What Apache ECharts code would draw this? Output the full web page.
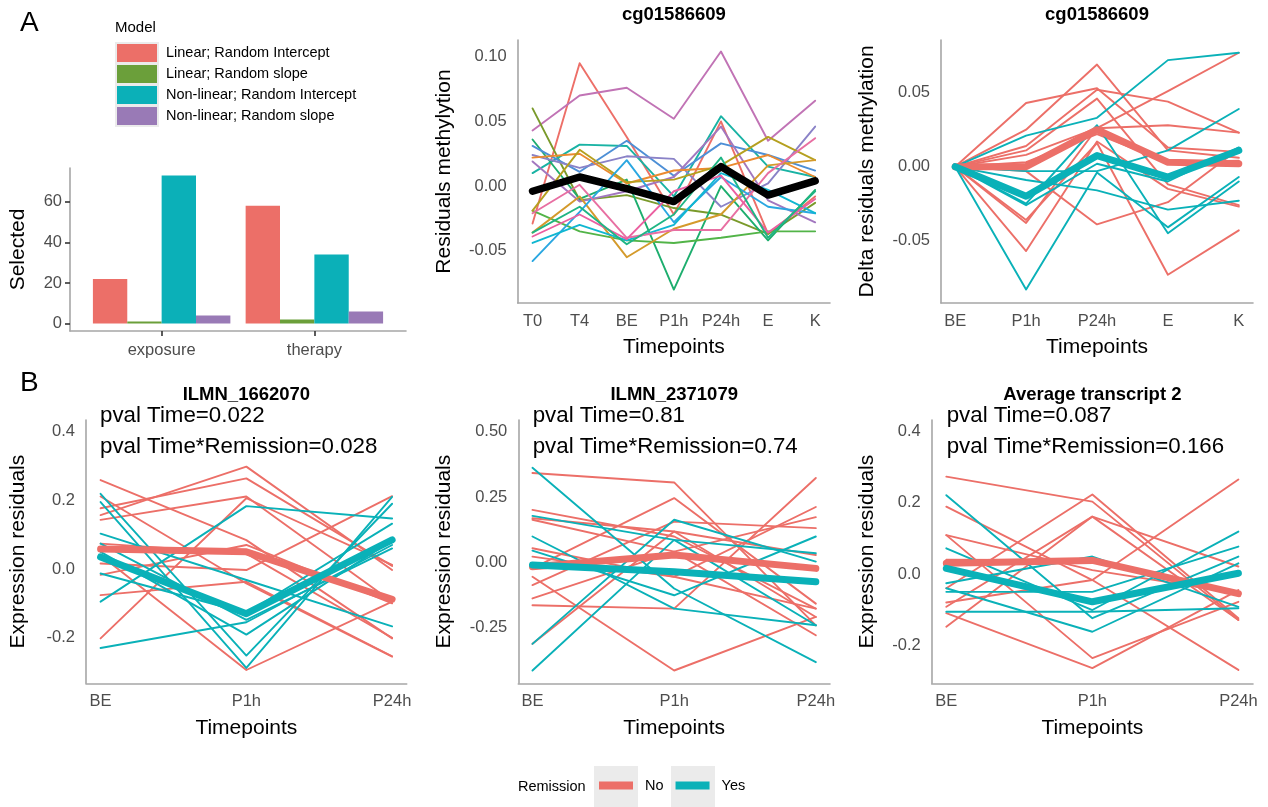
<!DOCTYPE html>
<html><head><meta charset="utf-8">
<script src="https://cdn.jsdelivr.net/npm/echarts@6/dist/echarts.min.js"></script>
<style>html,body{margin:0;padding:0;background:#fff}#c{width:1268px;height:807px}</style>
</head><body><div id="c"></div>
<script>
// ---------------- DATA ----------------
const modelNames = ['Linear; Random Intercept', 'Linear; Random slope', 'Non-linear; Random Intercept', 'Non-linear; Random slope'];
const phases = ['exposure', 'therapy'];
const selLinearRI = [22, 58];
const selLinearRS = [1, 2];
const selNonlinRI = [73, 34];
const selNonlinRS = [4, 6];

const tpA2 = ['T0', 'T4', 'BE', 'P1h', 'P24h', 'E', 'K'];
const a2Subjects = [
  [-0.029, 0.095, 0.038, -0.022, 0.050, -0.037, -0.008],
  [0.043, 0.070, 0.076, 0.052, 0.104, 0.035, 0.066],
  [0.060, -0.011, -0.007, -0.017, -0.022, -0.037, -0.013],
  [0.010, 0.032, 0.031, -0.008, 0.054, 0.015, 0.007],
  [0.036, -0.010, 0.005, -0.080, 0.000, -0.042, -0.003],
  [-0.019, -0.035, -0.042, -0.044, -0.040, -0.035, -0.035],
  [0.031, 0.011, 0.035, 0.008, 0.033, 0.024, 0.012],
  [0.024, 0.014, 0.023, 0.021, -0.016, 0.002, 0.046],
  [0.019, -0.012, -0.004, 0.007, 0.046, -0.011, -0.028],
  [0.022, 0.025, 0.002, 0.012, 0.014, 0.024, 0.007],
  [-0.019, 0.028, 0.003, 0.005, 0.016, 0.038, 0.020],
  [-0.036, -0.008, -0.055, -0.033, -0.022, 0.016, 0.020],
  [-0.058, -0.020, 0.020, -0.028, 0.007, -0.016, -0.021],
  [-0.044, -0.030, -0.042, -0.030, 0.010, -0.003, -0.021],
  [-0.021, 0.001, -0.040, -0.034, -0.034, 0.010, 0.037],
  [-0.039, -0.022, -0.041, -0.004, 0.008, -0.036, -0.010],
  [-0.036, -0.016, -0.045, -0.022, 0.022, -0.040, -0.004]
];
const a2Mean = [-0.004, 0.007, -0.002, -0.012, 0.015, -0.007, 0.004];

const tpA3 = ['BE', 'P1h', 'P24h', 'E', 'K'];
const a3No = [
  [0, 0.043, 0.053, 0.013, 0.010],
  [0, 0.025, 0.069, 0.011, 0.006],
  [0, 0.014, 0.052, 0.044, 0.023],
  [0, 0.011, 0.046, -0.012, -0.026],
  [0, 0.008, 0.026, 0.051, 0.077],
  [0, -0.003, -0.039, -0.024, 0.012],
  [0, -0.036, 0.016, -0.073, -0.043],
  [0, -0.057, 0.017, -0.015, -0.027],
  [0, -0.038, 0.026, 0.028, 0.023],
  [0, 0.003, 0.022, 0.003, 0.004]
];
const a3Yes = [
  [0, 0.021, 0.033, 0.072, 0.077],
  [0, -0.083, -0.004, -0.041, -0.007],
  [0, -0.009, -0.016, -0.029, -0.023],
  [0, -0.025, 0.028, -0.045, -0.010],
  [0, -0.003, -0.003, 0.011, 0.039],
  [0, -0.026, 0.002, -0.010, 0.013]
];
const a3NoMean = [0, 0.000, 0.025, 0.003, 0.002];
const a3YesMean = [0, -0.020, 0.0075, -0.007, 0.011];

const tpB = ['BE', 'P1h', 'P24h'];
const b1No = [
  [0.259, 0.084, -0.202], [0.211, -0.042, -0.255], [0.177, 0.264, 0.009], [0.157, 0.298, -0.003],
  [0.143, 0.211, -0.095], [0.016, -0.003, 0.212], [-0.017, 0.070, -0.100], [-0.076, -0.037, -0.254],
  [-0.202, 0.206, 0.012], [0.040, -0.294, -0.095], [0.074, 0.045, -0.200]
];
const b1Yes = [
  [0.219, -0.252, 0.190], [0.195, -0.288, 0.210], [0.103, -0.032, -0.167], [0.074, -0.148, 0.060],
  [-0.013, -0.128, 0.132], [-0.095, 0.183, 0.147], [-0.230, -0.155, 0.070], [0.050, -0.191, 0.084]
];
const b1NoMean = [0.058, 0.050, -0.088];
const b1YesMean = [0.035, -0.130, 0.085];

const b2No = [
  [0.342, 0.306, -0.241], [0.201, 0.099, -0.177], [0.169, 0.118, -0.209], [0.163, 0.041, -0.279],
  [0.054, -0.055, 0.212], [-0.055, -0.414, -0.209], [-0.023, 0.246, -0.158], [-0.087, 0.156, 0.131],
  [-0.138, 0.041, 0.173], [-0.164, -0.177, 0.323], [-0.312, 0.118, 0.028], [0.022, -0.055, -0.177]
];
const b2Yes = [
  [0.362, -0.100, -0.382], [0.178, 0.086, 0.035], [0.099, -0.177, -0.241],
  [0.045, -0.126, 0.099], [-0.312, 0.163, 0.003], [-0.414, 0.086, -0.241]
];
const b2NoMean = [-0.017, 0.028, -0.023];
const b2YesMean = [-0.010, -0.036, -0.074];

const b3No = [
  [0.273, 0.203, -0.129], [0.189, -0.017, -0.269], [0.109, 0.011, -0.054], [0.109, -0.236, -0.078],
  [-0.040, 0.223, -0.124], [-0.092, 0.161, 0.021], [-0.110, -0.264, -0.045], [-0.148, 0.161, -0.129],
  [-0.080, -0.017, 0.265], [0.040, 0.039, -0.060]
];
const b3Yes = [
  [0.221, -0.124, 0.049], [0.072, -0.101, 0.119], [-0.026, 0.049, -0.092],
  [-0.050, -0.050, 0.077], [-0.106, -0.106, -0.096], [-0.040, -0.162, 0.030]
];
const b3NoMean = [0.030, 0.038, -0.055];
const b3YesMean = [0.016, -0.078, 0.002];

const yTicksA1 = [0, 20, 40, 60];
const yTicksA2 = [-0.05, 0.00, 0.05, 0.10];
const yTicksA3 = [-0.05, 0.00, 0.05];
const yTicksB1 = [-0.2, 0.0, 0.2, 0.4];
const yTicksB2 = [-0.25, 0.00, 0.25, 0.50];
const yTicksB3 = [-0.2, 0.0, 0.2, 0.4];

// ---------------- STYLE ----------------
const FONT = '"Liberation Sans", Arial, Helvetica, sans-serif';
const RED = '#EC6F68', TEAL = '#0AB1B8';
const barColors = ['#EC6F68', '#6B9F3A', '#0BB0B8', '#997AB6'];
const a2Colors = ['#ED6F68', '#C173B5', '#7A9A2B', '#19B3A4', '#1DAE6E', '#52B448', '#4D8FD6', '#8A82C7',
  '#A277BF', '#EB8A30', '#B5A01F', '#D49A2B', '#2AA7E1', '#10B7D1', '#E86FA2', '#EB5FA0', '#1FB584'];
const AXIS_COL = '#a6a6a6';

const grids = [
  { left: 70, top: 168, width: 336, height: 163 },
  { left: 517.7, top: 40, width: 312.3, height: 263 },
  { left: 941, top: 40, width: 312, height: 263 },
  { left: 86, top: 420, width: 320.7, height: 263.3 },
  { left: 518.3, top: 420, width: 311.7, height: 263.3 },
  { left: 931.7, top: 420, width: 321.3, height: 263.3 }
];

function xAxis(gi, labels, min, max, opts) {
  const vals = labels.map((_, i) => i);
  return Object.assign({
    type: 'value', gridIndex: gi, min, max,
    splitLine: { show: false },
    axisLine: { onZero: false, lineStyle: { color: AXIS_COL, width: 1.6 } },
    axisTick: { show: false, customValues: vals },
    axisLabel: { customValues: vals, formatter: v => labels[Math.round(v)], color: '#4d4d4d', fontSize: 16.5, fontFamily: FONT, margin: 10 },
    name: 'Timepoints', nameLocation: 'middle', nameGap: 34,
    nameTextStyle: { color: '#000', fontSize: 21, fontFamily: FONT }
  }, opts || {});
}
function yAxis(gi, min, max, ticks, dec, name, gap, opts) {
  return Object.assign({
    type: 'value', gridIndex: gi, min, max,
    splitLine: { show: false },
    axisLine: { show: true, onZero: false, lineStyle: { color: AXIS_COL, width: 1.6 } },
    axisTick: { show: false, customValues: ticks },
    axisLabel: { customValues: ticks, formatter: v => v.toFixed(dec), color: '#4d4d4d', fontSize: 16.5, fontFamily: FONT, margin: 11 },
    name, nameLocation: 'middle', nameGap: gap,
    nameTextStyle: { color: '#000', fontSize: 21, fontFamily: FONT }
  }, opts || {});
}

const xAxes = [
  xAxis(0, phases, -0.6, 1.6, {
    name: '',
    axisTick: { show: true, customValues: [0, 1], length: 5, lineStyle: { color: '#333', width: 1.6 } },
    axisLabel: { customValues: [0, 1], formatter: v => phases[Math.round(v)], color: '#4d4d4d', fontSize: 16.5, fontFamily: FONT, margin: 11 }
  }),
  xAxis(1, tpA2, -0.315, 6.315),
  xAxis(2, tpA3, -0.2, 4.2),
  xAxis(3, tpB, -0.1, 2.1),
  xAxis(4, tpB, -0.1, 2.1),
  xAxis(5, tpB, -0.1, 2.1)
];
const yAxes = [
  yAxis(0, -3.65, 76.65, yTicksA1, 0, 'Selected', 41, {
    axisTick: { show: true, customValues: yTicksA1, length: 5, lineStyle: { color: '#333', width: 1.6 } },
    axisLabel: { customValues: yTicksA1, formatter: v => String(v), color: '#4d4d4d', fontSize: 16.5, fontFamily: FONT, margin: 8 }
  }),
  yAxis(1, -0.0904, 0.1129, yTicksA2, 2, 'Residuals methylytion', 63),
  yAxis(2, -0.0921, 0.0856, yTicksA3, 2, 'Delta residuals methylation', 63),
  yAxis(3, -0.3327, 0.4338, yTicksB1, 1, 'Expression residuals', 57),
  yAxis(4, -0.463, 0.545, yTicksB2, 2, 'Expression residuals', 64),
  yAxis(5, -0.3066, 0.432, yTicksB3, 1, 'Expression residuals', 54)
];

const series = [];
const barData = [selLinearRI, selLinearRS, selNonlinRI, selNonlinRS];
barData.forEach((vals, k) => {
  series.push({
    type: 'bar', name: modelNames[k], xAxisIndex: 0, yAxisIndex: 0,
    data: vals.map((v, i) => [i, v]), barGap: '0%', barCategoryGap: '10%',
    itemStyle: { color: barColors[k] }, color: barColors[k], silent: true
  });
});

function line(name, vals, gi, color, width, z) {
  return {
    type: 'line', name, xAxisIndex: gi, yAxisIndex: gi,
    data: vals.map((v, i) => [i, v]), symbol: 'none', showSymbol: false,
    lineStyle: { color, width, join: 'round', cap: 'round' }, itemStyle: { color }, color, z, silent: true
  };
}
a2Subjects.forEach((vals, k) => series.push(line('cg_' + k, vals, 1, a2Colors[k], 1.9, 2)));
series.push(line('cg_mean', a2Mean, 1, '#000', 7.5, 4));

function groupPanel(gi, noArr, yesArr, noMean, yesMean) {
  noArr.forEach(v => series.push(line('No', v, gi, RED, 1.9, 2)));
  yesArr.forEach(v => series.push(line('Yes', v, gi, TEAL, 1.9, 2)));
  series.push(line('No', noMean, gi, RED, 7, 3));
  series.push(line('Yes', yesMean, gi, TEAL, 7, 4));
}
groupPanel(2, a3No, a3Yes, a3NoMean, a3YesMean);
groupPanel(3, b1No, b1Yes, b1NoMean, b1YesMean);
groupPanel(4, b2No, b2Yes, b2NoMean, b2YesMean);
groupPanel(5, b3No, b3Yes, b3NoMean, b3YesMean);

function txt(text, x, y, size, opts) {
  return {
    type: 'text', x, y, silent: true, z: 10,
    style: Object.assign({ text, fontSize: size, fontFamily: FONT, fill: '#000', align: 'left', verticalAlign: 'middle' }, opts || {})
  };
}
const graphics = [
  { type: 'rect', shape: { x: 115, y: 42, width: 44, height: 85 }, style: { fill: '#EBEBEB' }, z: -1, silent: true },
  { type: 'rect', shape: { x: 594, y: 766, width: 44, height: 41 }, style: { fill: '#EBEBEB' }, z: -1, silent: true },
  { type: 'rect', shape: { x: 671, y: 766, width: 44, height: 41 }, style: { fill: '#EBEBEB' }, z: -1, silent: true },
  txt('A', 20, 23, 28),
  txt('B', 20, 383, 28),
  txt('Model', 115, 28, 15),
  txt('Remission', 518, 787, 14.5),
  txt('cg01586609', 673.9, 15, 18.5, { align: 'center', fontWeight: 'bold' }),
  txt('cg01586609', 1097, 15, 18.5, { align: 'center', fontWeight: 'bold' }),
  txt('ILMN_1662070', 246.4, 395, 18.5, { align: 'center', fontWeight: 'bold' }),
  txt('ILMN_2371079', 674.2, 395, 18.5, { align: 'center', fontWeight: 'bold' }),
  txt('Average transcript 2', 1092.4, 395, 18.5, { align: 'center', fontWeight: 'bold' }),
  txt('pval Time=0.022', 100, 416, 22.3),
  txt('pval Time*Remission=0.028', 100, 447, 22.3),
  txt('pval Time=0.81', 532.7, 416, 22.3),
  txt('pval Time*Remission=0.74', 532.7, 447, 22.3),
  txt('pval Time=0.087', 946.7, 416, 22.3),
  txt('pval Time*Remission=0.166', 946.7, 447, 22.3)
];

const chart = echarts.init(document.getElementById('c'), null, { renderer: 'canvas' });
chart.setOption({
  animation: false,
  backgroundColor: '#fff',
  textStyle: { fontFamily: FONT },
  grid: grids,
  xAxis: xAxes,
  yAxis: yAxes,
  legend: [
    {
      data: modelNames.map(n => ({ name: n, icon: 'rect' })), orient: 'vertical', left: 117, top: 44,
      itemWidth: 40, itemHeight: 18, itemGap: 3, padding: 0, selectedMode: false,
      textStyle: { fontSize: 14.5, fontFamily: FONT, color: '#000', padding: [0, 0, 0, 4] }
    },
    {
      data: [{ name: 'No', icon: 'rect' }, { name: 'Yes', icon: 'rect' }], orient: 'horizontal', left: 599, top: 778,
      itemWidth: 34, itemHeight: 8, itemGap: 12, padding: 0, selectedMode: false,
      textStyle: { fontSize: 14.5, fontFamily: FONT, color: '#000', padding: [0, 0, 0, 7] }
    }
  ],
  graphic: graphics,
  series
});
</script></body></html>
